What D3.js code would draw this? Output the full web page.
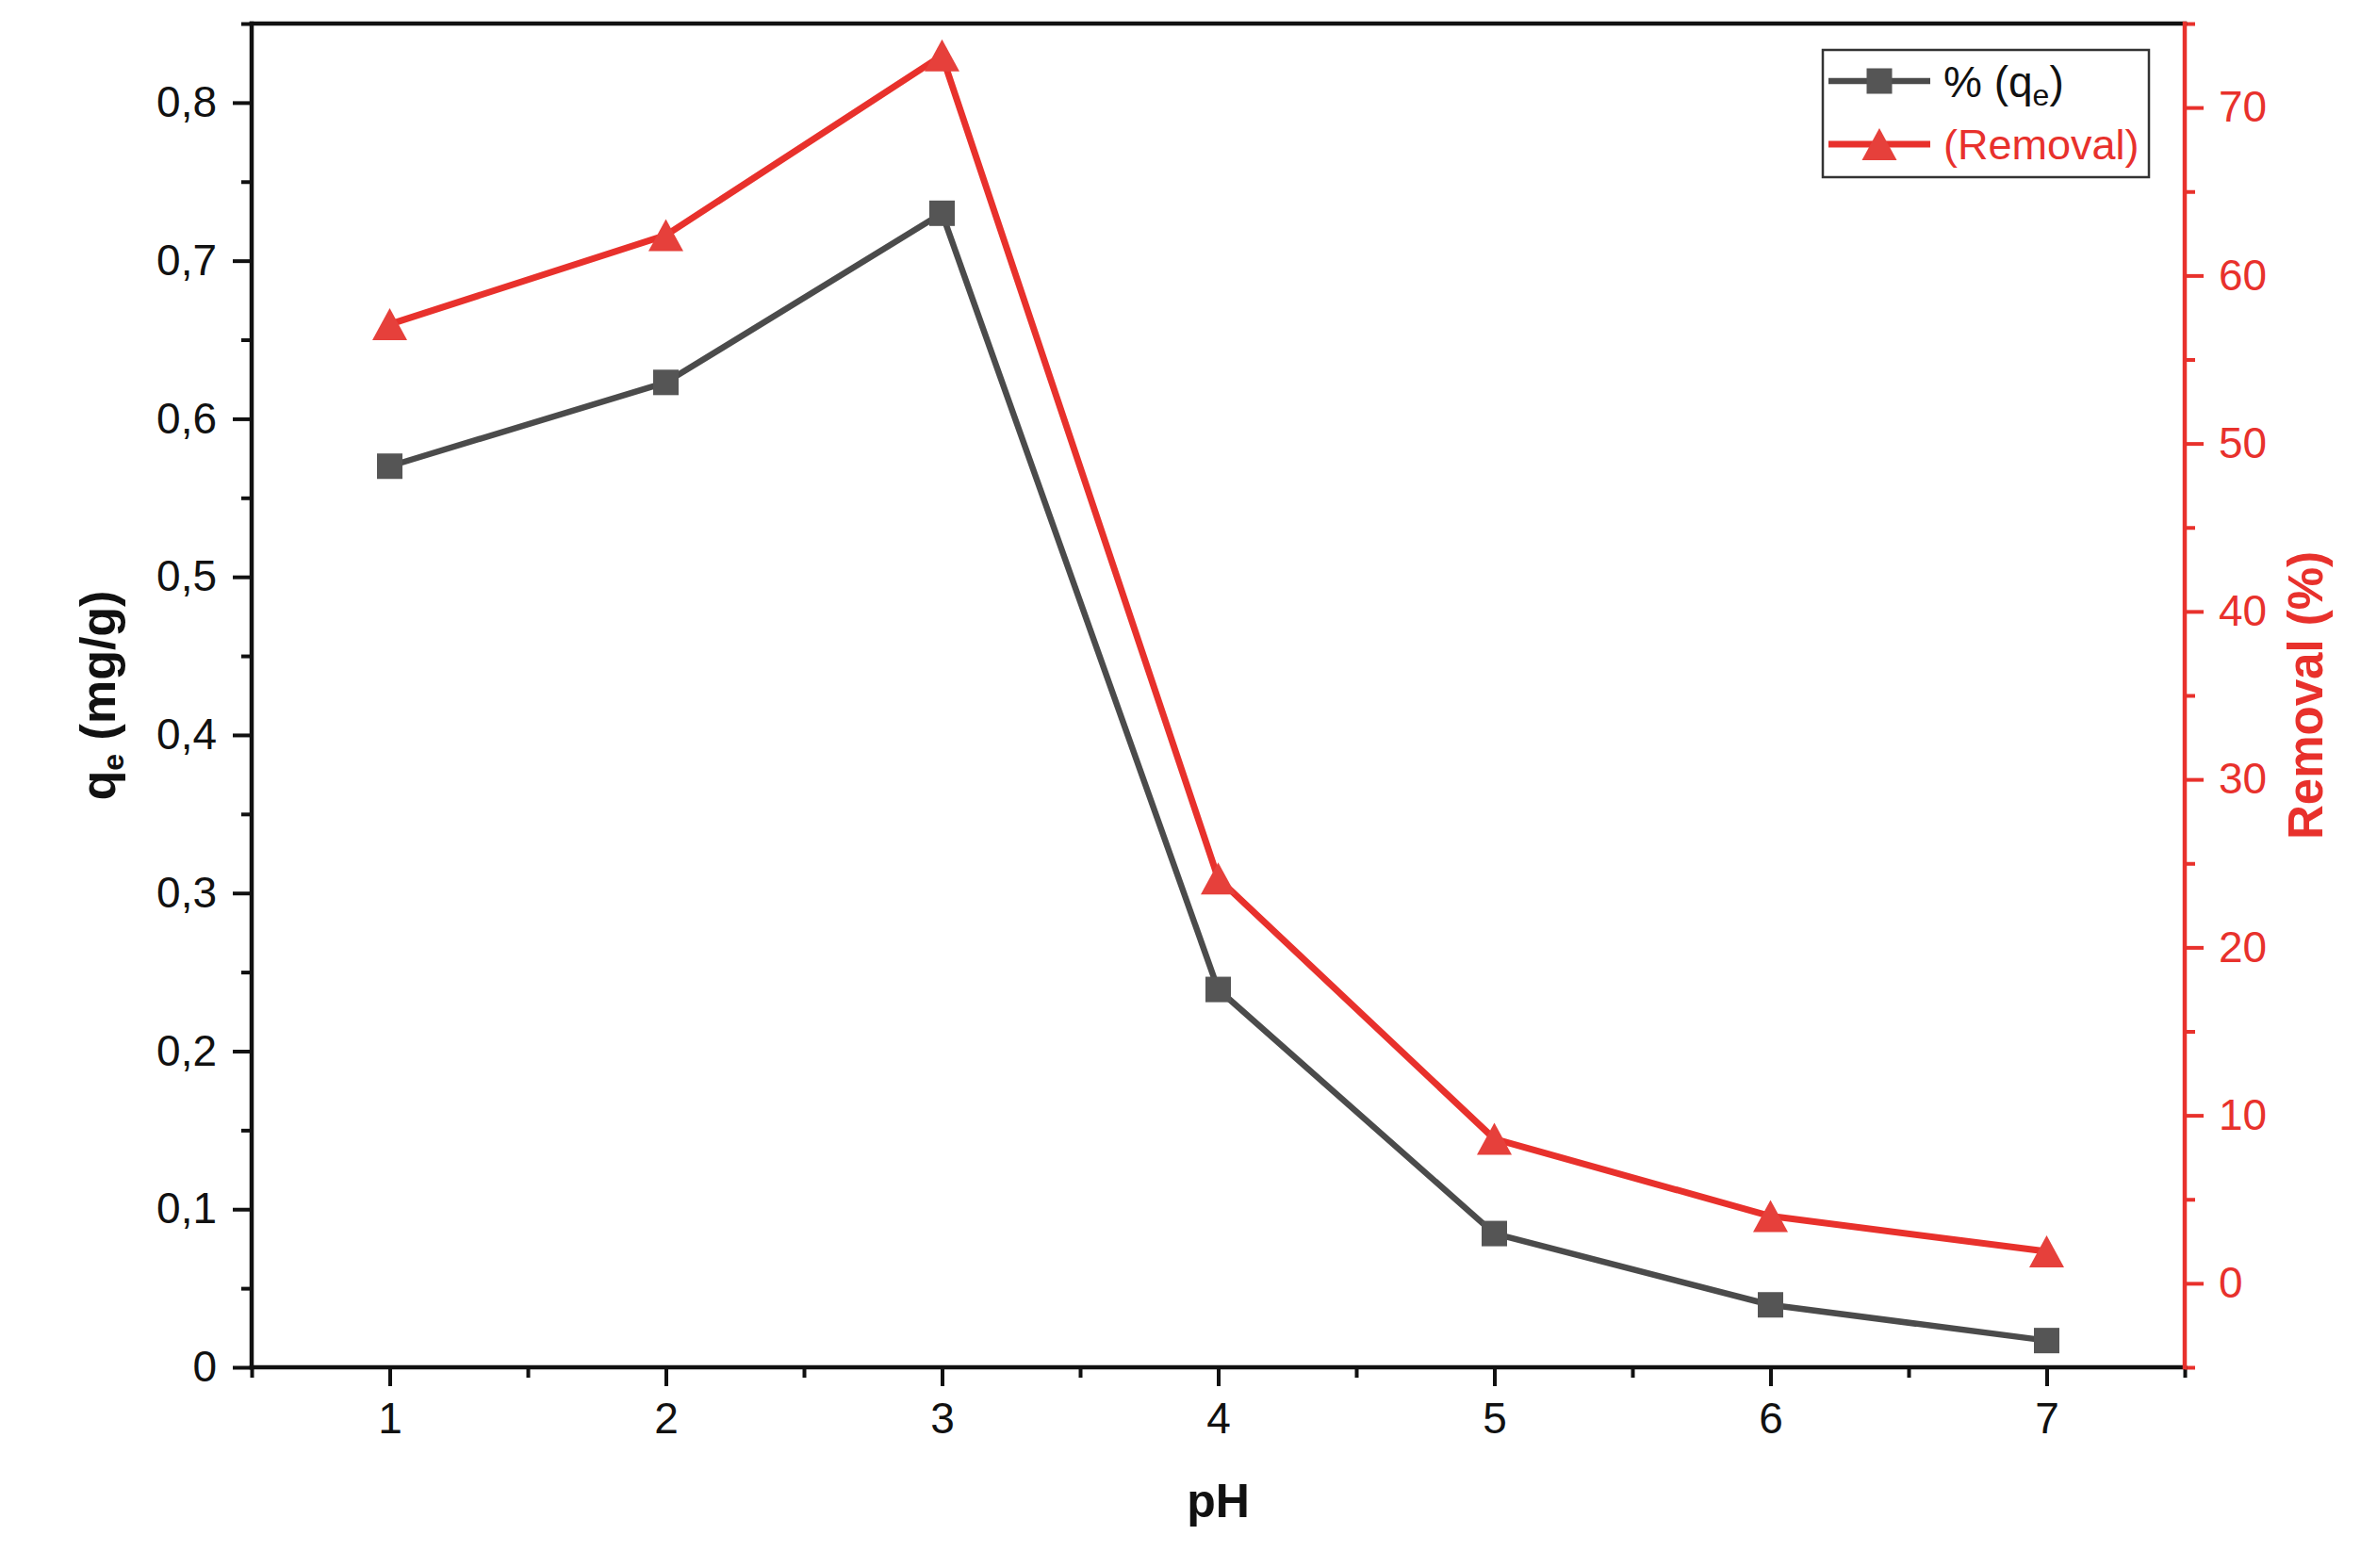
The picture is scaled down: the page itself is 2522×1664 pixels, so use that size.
<!DOCTYPE html>
<html>
<head>
<meta charset="utf-8">
<script src="https://cdn.jsdelivr.net/npm/d3@7"></script>
<style>
    body { margin: 0; background: #ffffff; }
    svg { display: block; font-family: "Liberation Sans", Arial, sans-serif; }
</style>
</head>
<body>
<svg class="chart" width="2522" height="1664"></svg>
<script>
// pH values and the two measured series
var phValues = [1, 2, 3, 4, 5, 6, 7];
var qeValues = [0.570, 0.623, 0.730, 0.239, 0.0846, 0.0395, 0.0169];
var removalValues = [57.1, 62.4, 73.1, 24.1, 8.6, 4.0, 1.9];

var xTicks = [1, 2, 3, 4, 5, 6, 7];
var xMinorTicks = [0.5, 1.5, 2.5, 3.5, 4.5, 5.5, 6.5, 7.5];
var qeTicks = [0, 0.1, 0.2, 0.3, 0.4, 0.5, 0.6, 0.7, 0.8];
var qeMinorTicks = [0.05, 0.15, 0.25, 0.35, 0.45, 0.55, 0.65, 0.75, 0.85];
var removalTicks = [0, 10, 20, 30, 40, 50, 60, 70];
var removalMinorTicks = [-5, 5, 15, 25, 35, 45, 55, 65, 75];

var plot = { left: 267, right: 2318, top: 25, bottom: 1451 };
var BLACK = "#111111";
var RED = "#e8312c";
var GREY = "#4b4b4b";

var svg = d3.select("svg.chart");

var x = d3.scaleLinear().domain([0.5, 7.5]).range([plot.left, plot.right]);
var yQe = d3.scaleLinear().domain([0, 0.85]).range([plot.bottom, plot.top]);
var yRem = d3.scaleLinear().domain([-5, 75]).range([plot.bottom, plot.top]);

function commaFormat(v) {
    if (v === 0) return "0";
    return d3.format(".1f")(v).replace(".", ",");
}

function styleAxis(g, color) {
    g.select(".domain").remove();
    g.selectAll(".tick line")
        .attr("stroke", color)
        .attr("stroke-width", 4);
    g.selectAll(".tick text")
        .attr("fill", color)
        .attr("font-size", 46)
        .attr("font-family", "Liberation Sans, Arial, sans-serif");
}

// minor ticks first, majors on top
svg.append("g")
    .attr("transform", "translate(0," + plot.bottom + ")")
    .call(d3.axisBottom(x).tickValues(xMinorTicks).tickSize(11).tickFormat(""))
    .call(styleAxis, BLACK);
svg.append("g")
    .attr("transform", "translate(0," + plot.bottom + ")")
    .call(d3.axisBottom(x).tickValues(xTicks).tickSize(20).tickPadding(17).tickFormat(d3.format("d")))
    .call(styleAxis, BLACK);

svg.append("g")
    .attr("transform", "translate(" + plot.left + ",0)")
    .call(d3.axisLeft(yQe).tickValues(qeMinorTicks).tickSize(11).tickFormat(""))
    .call(styleAxis, BLACK);
svg.append("g")
    .attr("transform", "translate(" + plot.left + ",0)")
    .call(d3.axisLeft(yQe).tickValues(qeTicks).tickSize(20).tickPadding(17).tickFormat(commaFormat))
    .call(styleAxis, BLACK);

svg.append("g")
    .attr("transform", "translate(" + plot.right + ",0)")
    .call(d3.axisRight(yRem).tickValues(removalMinorTicks).tickSize(11).tickFormat(""))
    .call(styleAxis, RED);
svg.append("g")
    .attr("transform", "translate(" + plot.right + ",0)")
    .call(d3.axisRight(yRem).tickValues(removalTicks).tickSize(20).tickPadding(16).tickFormat(d3.format("d")))
    .call(styleAxis, RED);

// frame: black on three sides, red on the right
var frame = svg.append("g").attr("stroke-width", 4.5).attr("stroke-linecap", "square");
frame.append("line")
    .attr("x1", plot.left).attr("x2", plot.right)
    .attr("y1", plot.top).attr("y2", plot.top)
    .attr("stroke", BLACK);
frame.append("line")
    .attr("x1", plot.left).attr("x2", plot.right)
    .attr("y1", plot.bottom).attr("y2", plot.bottom)
    .attr("stroke", BLACK);
frame.append("line")
    .attr("x1", plot.left).attr("x2", plot.left)
    .attr("y1", plot.top).attr("y2", plot.bottom)
    .attr("stroke", BLACK);
frame.append("line")
    .attr("x1", plot.right).attr("x2", plot.right)
    .attr("y1", plot.top).attr("y2", plot.bottom)
    .attr("stroke", RED);

// series
var qeData = phValues.map(function (p, i) { return { x: p, y: qeValues[i] }; });
var remData = phValues.map(function (p, i) { return { x: p, y: removalValues[i] }; });

var qeLine = d3.line()
    .x(function (d) { return x(d.x); })
    .y(function (d) { return yQe(d.y); });
var remLine = d3.line()
    .x(function (d) { return x(d.x); })
    .y(function (d) { return yRem(d.y); });

svg.append("path")
    .datum(qeData)
    .attr("d", qeLine)
    .attr("fill", "none")
    .attr("stroke", GREY)
    .attr("stroke-width", 6.5)
    .attr("stroke-linejoin", "round");

svg.append("path")
    .datum(remData)
    .attr("d", remLine)
    .attr("fill", "none")
    .attr("stroke", RED)
    .attr("stroke-width", 7)
    .attr("stroke-linejoin", "round");

var SQ = 27;
var TRI_W = 37, TRI_H = 34;

function trianglePath(cx, cy) {
    return "M" + cx + "," + (cy - TRI_H / 2) +
        "L" + (cx + TRI_W / 2) + "," + (cy + TRI_H / 2) +
        "L" + (cx - TRI_W / 2) + "," + (cy + TRI_H / 2) + "Z";
}

svg.append("g").selectAll("rect.qe")
    .data(qeData)
    .enter().append("rect")
    .classed("qe", true)
    .attr("x", function (d) { return x(d.x) - SQ / 2; })
    .attr("y", function (d) { return yQe(d.y) - SQ / 2; })
    .attr("width", SQ)
    .attr("height", SQ)
    .attr("fill", "#555555");

svg.append("g").selectAll("path.rem")
    .data(remData)
    .enter().append("path")
    .classed("rem", true)
    .attr("d", function (d) { return trianglePath(x(d.x), yRem(d.y)); })
    .attr("fill", "#e6403b");

// axis titles
svg.append("text")
    .attr("x", (plot.left + plot.right) / 2)
    .attr("y", 1610)
    .attr("text-anchor", "middle")
    .attr("font-size", 50)
    .attr("font-weight", "bold")
    .attr("fill", BLACK)
    .text("pH");

var qeTitle = svg.append("text")
    .attr("transform", "translate(122," + (plot.top + plot.bottom) / 2 + ") rotate(-90)")
    .attr("text-anchor", "middle")
    .attr("font-size", 52)
    .attr("font-weight", "bold")
    .attr("fill", BLACK);
qeTitle.append("tspan").text("q");
qeTitle.append("tspan").attr("font-size", 32).attr("dy", 9).text("e");
qeTitle.append("tspan").attr("dy", -9).text(" (mg/g)");

svg.append("text")
    .attr("transform", "translate(2464," + (plot.top + plot.bottom) / 2 + ") rotate(-90)")
    .attr("text-anchor", "middle")
    .attr("font-size", 51)
    .attr("font-weight", "bold")
    .attr("fill", RED)
    .text("Removal (%)");

// legend
var legend = svg.append("g");
legend.append("rect")
    .attr("x", 1934).attr("y", 53)
    .attr("width", 346).attr("height", 135)
    .attr("fill", "#ffffff")
    .attr("stroke", "#333333")
    .attr("stroke-width", 2.5);

var rowQe = 86, rowRem = 153;
legend.append("line")
    .attr("x1", 1940).attr("x2", 2048)
    .attr("y1", rowQe).attr("y2", rowQe)
    .attr("stroke", GREY).attr("stroke-width", 6.5);
legend.append("rect")
    .attr("x", 1994 - SQ / 2).attr("y", rowQe - SQ / 2)
    .attr("width", SQ).attr("height", SQ)
    .attr("fill", "#555555");
legend.append("line")
    .attr("x1", 1940).attr("x2", 2048)
    .attr("y1", rowRem).attr("y2", rowRem)
    .attr("stroke", RED).attr("stroke-width", 7);
legend.append("path")
    .attr("d", trianglePath(1994, rowRem))
    .attr("fill", "#e6403b");

var legQe = legend.append("text")
    .attr("x", 2062).attr("y", rowQe + 17)
    .attr("font-size", 46)
    .attr("fill", BLACK);
legQe.append("tspan").text("% (q");
legQe.append("tspan").attr("font-size", 32).attr("dy", 9).text("e");
legQe.append("tspan").attr("dy", -9).text(")");

legend.append("text")
    .attr("x", 2062).attr("y", rowRem + 16)
    .attr("font-size", 45)
    .attr("fill", RED)
    .text("(Removal)");
</script>
</body>
</html>
